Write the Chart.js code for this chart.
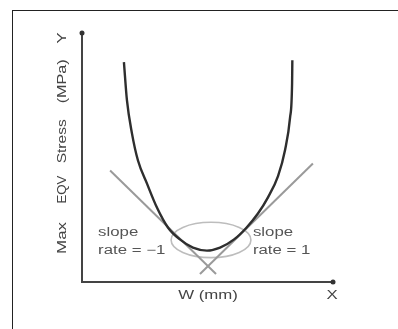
<!DOCTYPE html>
<html>
<head>
<meta charset="utf-8">
<script src="https://cdn.jsdelivr.net/npm/chart.js@4"></script>
<style>
  html, body { margin: 0; padding: 0; background: #fff; }
  #wrap { position: relative; width: 398px; height: 329px; overflow: hidden; }
  #frame { position: absolute; left: 12px; top: 10px; width: 400px; height: 330px;
           border-left: 1.5px solid #222; border-top: 1.5px solid #222; box-sizing: border-box; }
  canvas { position: absolute; left: 0; top: 0; }
</style>
</head>
<body>
<div id="wrap">
  <div id="frame"></div>
  <canvas id="c" width="398" height="329"></canvas>
</div>
<script>
// Stress curve (arbitrary units)
const curveX = [16.7, 17.9, 19.9, 22.3, 25.9, 29.9, 34.3, 39.0, 44.2, 49.8, 55.0, 60.6, 65.5, 70.1, 74.1, 78.1, 80.9, 82.9, 83.7, 83.8];
const curveY = [88.3, 73.0, 59.7, 48.8, 39.5, 29.8, 21.8, 17.1, 13.8, 12.6, 13.8, 17.1, 21.8, 27.5, 34.0, 42.5, 53.0, 66.1, 79.8, 89.1];
// Tangent lines (slope rate -1 and 1)
const leftLineX = [11.2, 53.4];
const leftLineY = [44.8, 3.2];
const rightLineX = [92.0, 47.0];
const rightLineY = [47.6, 3.2];
// Axis end markers
const axisEndX = [0, 100];
const axisEndY = [100, 0];
// Highlight ellipse: center x, center y, radius x, radius y
const ellipseSpec = [51.4, 16.9, 15.9, 7.1];
// Text labels
const noteTexts = ['slope', 'rate = \u22121', 'slope', 'rate = 1'];
const noteX = [6.4, 6.4, 68.1, 68.1];
const noteY = [19.8, 12.5, 19.8, 12.5];
const xTitle = 'W (mm)';
const xLetter = 'X';
const yWords = ['Max', 'EQV', 'Stress', '(MPa)', 'Y'];
const yWordPos = [17.7, 37.1, 56.5, 80.6, 98.0];
const yWordLen = [32, 28, 44, 44, 0];

const pts = (xs, ys) => xs.map((x, i) => ({ x: x, y: ys[i] }));

const FONT = '12px "Liberation Sans", Arial, sans-serif';
const STRETCH = 1.4;

function drawText(ctx, t, px, py, align, rot, color, len) {
  ctx.save();
  ctx.font = FONT;
  let s = STRETCH;
  if (len) s = len / ctx.measureText(t).width;
  ctx.translate(px, py);
  if (rot) ctx.rotate(-Math.PI / 2);
  ctx.scale(s, 1);
  ctx.fillStyle = color || '#555';
  ctx.textAlign = align;
  ctx.textBaseline = 'middle';
  ctx.fillText(t, 0, 0);
  ctx.restore();
}

const decor = {
  id: 'decor',
  beforeDatasetsDraw(chart) {
    const ctx = chart.ctx, xs = chart.scales.x, ys = chart.scales.y;
    const cx = xs.getPixelForValue(ellipseSpec[0]);
    const cy = ys.getPixelForValue(ellipseSpec[1]);
    const rx = Math.abs(xs.getPixelForValue(ellipseSpec[0] + ellipseSpec[2]) - cx);
    const ry = Math.abs(ys.getPixelForValue(ellipseSpec[1] + ellipseSpec[3]) - cy);
    ctx.save();
    ctx.strokeStyle = '#bdbdbd';
    ctx.lineWidth = 1.6;
    ctx.beginPath();
    ctx.ellipse(cx, cy, rx, ry, 0, 0, Math.PI * 2);
    ctx.stroke();
    ctx.restore();
  },
  afterDraw(chart) {
    const ctx = chart.ctx, xs = chart.scales.x, ys = chart.scales.y;
    noteTexts.forEach((t, i) => {
      drawText(ctx, t, xs.getPixelForValue(noteX[i]), ys.getPixelForValue(noteY[i]), 'left', false, '#555');
    });
    drawText(ctx, xTitle, xs.getPixelForValue(50.2), ys.getPixelForValue(-5.6), 'center', false, '#444');
    drawText(ctx, xLetter, xs.getPixelForValue(99.6), ys.getPixelForValue(-5.6), 'center', false, '#444');
    yWords.forEach((w, i) => {
      drawText(ctx, w, xs.getPixelForValue(-7.6), ys.getPixelForValue(yWordPos[i]), 'center', true, '#444', yWordLen[i]);
    });
  }
};

new Chart(document.getElementById('c'), {
  type: 'line',
  data: {
    datasets: [
      { data: pts(curveX, curveY), borderColor: '#2e2e2e', borderWidth: 2.4, pointRadius: 0, cubicInterpolationMode: 'monotone', fill: false },
      { data: pts(leftLineX, leftLineY), borderColor: '#9a9a9a', borderWidth: 2, pointRadius: 0, tension: 0, fill: false },
      { data: pts(rightLineX, rightLineY), borderColor: '#9a9a9a', borderWidth: 2, pointRadius: 0, tension: 0, fill: false },
      { data: pts(axisEndX, axisEndY), showLine: false, pointRadius: 2.5, pointBackgroundColor: '#333', pointBorderWidth: 0 }
    ]
  },
  options: {
    responsive: false,
    animation: false,
    devicePixelRatio: 1,
    layout: { padding: { left: 74, right: 65, top: 33, bottom: 39 } },
    plugins: { legend: { display: false }, tooltip: { enabled: false } },
    scales: {
      x: { type: 'linear', min: 0, max: 100, grid: { display: false }, ticks: { display: false },
           border: { display: true, color: '#444', width: 2 } },
      y: { type: 'linear', min: 0, max: 100, grid: { display: false }, ticks: { display: false },
           border: { display: true, color: '#444', width: 2 } }
    },
    clip: false
  },
  plugins: [decor]
});
</script>
</body>
</html>
